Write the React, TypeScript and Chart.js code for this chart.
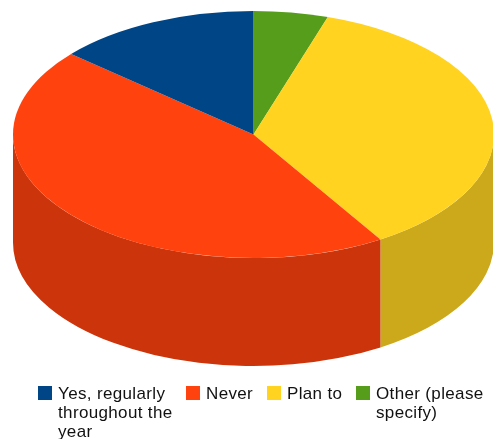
import React, { useEffect, useRef } from "react";
import { Chart, registerables } from "chart.js";

Chart.register(...registerables);

const categories = ["Yes, regularly throughout the year", "Never", "Plan to", "Other (please specify)"];
const shares = [13.7, 45.15, 36.15, 5.0];
const topColors = ["#004586", "#FF420E", "#FFD320", "#579D1C"];
const sideColors = ["#00376B", "#CC350B", "#CCA91A", "#467E16"];
const legendLines = [
  ["Yes, regularly", "throughout the", "year"],
  ["Never"],
  ["Plan to"],
  ["Other (please", "specify)"],
];
const legendLefts = [38, 186, 267, 356];

// The slices run clockwise from twelve o'clock, last category first.
const sliceOrder = [3, 2, 1, 0];

const DISC = { cx: 253.5, cy: 134.5, rx: 240.5, ry: 123.5, depth: 108 };

function project(ctx: CanvasRenderingContext2D, arc: any, drop: number) {
  const { x, y, outerRadius } = arc.getProps(["x", "y", "outerRadius"], true);
  ctx.translate(DISC.cx, DISC.cy + drop);
  ctx.scale(DISC.rx / outerRadius, DISC.ry / outerRadius);
  ctx.translate(-x, -y);
}

// Tilts the pie into an ellipse and fills a darkened wall below the front half of its rim.
const tiltedDisc = {
  id: "tiltedDisc",
  beforeDatasetsDraw(chart: any) {
    const ctx: CanvasRenderingContext2D = chart.ctx;
    const arcs = chart.getDatasetMeta(0).data;
    if (!arcs.length) return;
    arcs.forEach((arc: any, i: number) => {
      const p = arc.getProps(["x", "y", "outerRadius", "startAngle", "endAngle"], true);
      // Only angles 0..PI face the viewer.
      const from = Math.max(p.startAngle, 0);
      const to = Math.min(p.endAngle, Math.PI);
      if (to <= from) return;
      ctx.beginPath();
      ctx.save();
      project(ctx, arc, DISC.depth);
      ctx.arc(p.x, p.y, p.outerRadius, from, to);
      ctx.restore();
      ctx.save();
      project(ctx, arc, 0);
      ctx.arc(p.x, p.y, p.outerRadius, to, from, true);
      ctx.restore();
      ctx.closePath();
      ctx.fillStyle = sideColors[sliceOrder[i]];
      ctx.fill();
    });
    ctx.save();
    project(ctx, arcs[0], 0);
  },
  afterDatasetsDraw(chart: any) {
    if (chart.getDatasetMeta(0).data.length) chart.ctx.restore();
  },
};

export default function App() {
  const canvasRef = useRef<HTMLCanvasElement>(null);

  useEffect(() => {
    const chart = new Chart(canvasRef.current!, {
      type: "pie",
      data: {
        labels: sliceOrder.map((i) => categories[i]),
        datasets: [
          {
            data: sliceOrder.map((i) => shares[i]),
            backgroundColor: sliceOrder.map((i) => topColors[i]),
            borderWidth: 0,
            clip: false,
          },
        ],
      },
      options: {
        responsive: false,
        animation: false,
        plugins: { legend: { display: false }, tooltip: { enabled: false } },
      },
      plugins: [tiltedDisc],
    } as any);
    return () => chart.destroy();
  }, []);

  return (
    <div style={{ position: "absolute", left: 0, top: 0, width: 493, height: 439, overflow: "hidden", background: "#fff" }}>
      <canvas ref={canvasRef} width={493} height={439} style={{ position: "absolute", left: 0, top: 0 }} />
      {categories.map((name, i) => (
        <div key={name} style={{ position: "absolute", left: legendLefts[i], top: 386 }}>
          <div style={{ position: "absolute", left: 0, top: 0, width: 14, height: 14, background: topColors[i] }} />
          <div
            style={{
              position: "absolute",
              left: 20,
              top: -2,
              fontFamily: "'Liberation Sans', sans-serif",
              fontSize: 17,
              lineHeight: "19px",
              letterSpacing: 0.35,
              color: "#111",
              whiteSpace: "nowrap",
            }}
          >
            {legendLines[i].map((line) => (
              <div key={line}>{line}</div>
            ))}
          </div>
        </div>
      ))}
    </div>
  );
}
